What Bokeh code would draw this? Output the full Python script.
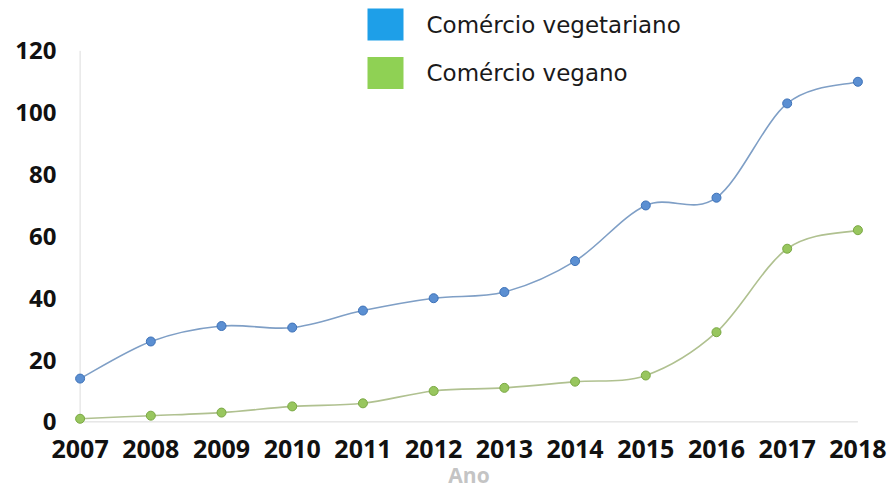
from bokeh.plotting import figure
from bokeh.embed import file_html
from bokeh.resources import INLINE
from bokeh.models import Range1d, FixedTicker, ColumnDataSource
from bokeh.core.properties import value

years = [2007, 2008, 2009, 2010, 2011, 2012, 2013, 2014, 2015, 2016, 2017, 2018]
vegetariano = [14, 26, 31, 30.5, 36, 40, 42, 52, 70, 72.5, 103, 110]
vegano = [1, 2, 3, 5, 6, 10, 11, 13, 15, 29, 56, 62]
y_ticks = [0, 20, 40, 60, 80, 100, 120]
series_names = ["Comércio vegetariano", "Comércio vegano"]

FONT = "Open Sans"
LEG_FONT = "DejaVu Sans"

X0, X1 = 2006.85, 2018.15
Y0, Y1 = -1.5, 136.29
FW, FH = 799, 426
px_x = FW / (X1 - X0)
px_y = FH / (Y1 - Y0)

p = figure(width=888, height=494, frame_width=FW, frame_height=FH,
           output_backend="svg", toolbar_location=None,
           x_range=Range1d(X0, X1), y_range=Range1d(Y0, Y1),
           min_border_left=69, min_border_right=20, min_border_top=0, min_border_bottom=68)
p.outline_line_color = None
p.background_fill_color = "white"
p.border_fill_color = "white"
p.xgrid.visible = False
p.ygrid.visible = False

p.xaxis.ticker = FixedTicker(ticks=years)
p.yaxis.ticker = FixedTicker(ticks=y_ticks)
for ax in (p.xaxis, p.yaxis):
    ax.axis_line_color = None
    ax.major_tick_line_color = None
    ax.minor_tick_line_color = None
    ax.major_tick_out = 0
    ax.major_tick_in = 0
    ax.major_label_text_font = FONT
    ax.major_label_text_font_style = "bold"
    ax.major_label_text_color = "#111111"
p.xaxis.major_label_text_font_size = "25px"
p.yaxis.major_label_text_font_size = "24px"
p.xaxis.major_label_standoff = 13
p.yaxis.major_label_standoff = 13
p.xaxis.axis_label = "Ano"
p.xaxis.axis_label_text_font = FONT
p.xaxis.axis_label_text_font_style = "bold"
p.xaxis.axis_label_text_font_size = "21px"
p.xaxis.axis_label_text_color = "#c4c4c4"
p.xaxis.axis_label_standoff = 0

# axis-like lines
p.segment(x0=[years[0]], y0=[0], x1=[years[-1]], y1=[0], line_color="#d9d9d9", line_width=1)
p.segment(x0=[years[0]], y0=[0], x1=[years[0]], y1=[y_ticks[-1]], line_color="#dcdcdc", line_width=1)


def smooth_beziers(xs, ys, t=1/6):
    n = len(xs)
    out = {k: [] for k in ("x0", "y0", "x1", "y1", "cx0", "cy0", "cx1", "cy1")}
    for i in range(n - 1):
        pm = i - 1 if i > 0 else i
        pp = i + 2 if i + 2 < n else i + 1
        out["x0"].append(xs[i]); out["y0"].append(ys[i])
        out["x1"].append(xs[i + 1]); out["y1"].append(ys[i + 1])
        out["cx0"].append(xs[i] + (xs[i + 1] - xs[pm]) * t)
        out["cy0"].append(ys[i] + (ys[i + 1] - ys[pm]) * t)
        out["cx1"].append(xs[i + 1] - (xs[pp] - xs[i]) * t)
        out["cy1"].append(ys[i + 1] - (ys[pp] - ys[i]) * t)
    return out


styles = [
    (vegetariano, "#7f9fc6", "#5b8fd2", "#3e72b8", "#1e9fe8"),
    (vegano, "#b0c190", "#98c65e", "#7aa843", "#8fd154"),
]
for vals, lc, fc, oc, legc in styles:
    src = ColumnDataSource(smooth_beziers(years, vals))
    p.bezier(x0="x0", y0="y0", x1="x1", y1="y1", cx0="cx0", cy0="cy0", cx1="cx1", cy1="cy1",
             source=src, line_color=lc, line_width=1.6)
    p.scatter(years, vals, size=9, fill_color=fc, line_color=oc, line_width=1)

# legend (positioned in pixels from the frame's top-left corner)
def sx(px):
    return X0 + px / px_x

def sy(py):
    return Y1 - py / px_y

legend_src = ColumnDataSource(dict(
    x=[sx(385 - 69)] * 2, y=[sy(24), sy(72.5)],
    c=[styles[0][4], styles[1][4]], t=series_names,
    tx=[sx(426 - 69)] * 2))
p.rect(x="x", y="y", width=36, height=32, width_units="screen", height_units="screen",
       fill_color="c", line_color=None, source=legend_src)
p.text(x="tx", y="y", text="t", source=legend_src, text_font=value(LEG_FONT),
       text_font_size="23px", text_color="#1a1a1a", text_baseline="middle", text_align="left")

open("out.html", "w").write(file_html(p, INLINE))
